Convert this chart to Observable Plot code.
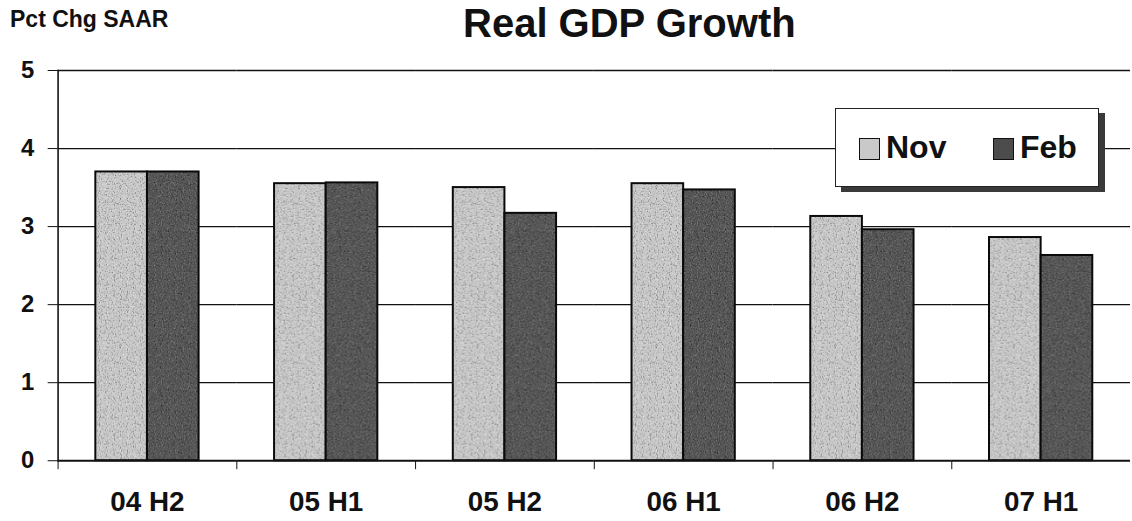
<!DOCTYPE html>
<html>
<head>
<meta charset="utf-8">
<script src="https://cdn.jsdelivr.net/npm/d3@7"></script>
<script src="https://cdn.jsdelivr.net/npm/@observablehq/plot@0.6"></script>
<style>
  html, body { margin: 0; padding: 0; background: #fff; overflow: hidden; width: 1132px; height: 521px; }
  #wrap { position: relative; width: 1132px; height: 521px; overflow: hidden; font-family: "Liberation Sans", Arial, sans-serif; font-weight: bold; color: #111; }
  #chart { position: absolute; left: 0; top: 0; }
  .lbl { position: absolute; white-space: nowrap; }
  #unit { left: 10px; top: 6px; font-size: 23px; line-height: normal; }
  #title { left: 463px; top: 1px; font-size: 40px; line-height: normal; }
  #legend { position: absolute; left: 835px; top: 108px; width: 262px; height: 77px; background: #fff;
            border: 1.5px solid #222; box-shadow: 6px 5px 0 #3a3a3a; }
  .sw { position: absolute; width: 19px; height: 20px; border: 1.5px solid #111; }
  .lt { position: absolute; font-size: 32px; line-height: 32px; }
</style>
</head>
<body>
<div id="wrap">
  <div id="chart"></div>
  <div class="lbl" id="unit">Pct Chg SAAR</div>
  <div class="lbl" id="title">Real GDP Growth</div>
  <div id="legend"></div>
</div>
<script>
// Half-year periods and the two vintages of the forecast
const periods = ["04 H2", "05 H1", "05 H2", "06 H1", "06 H2", "07 H1"];
const vintages = ["Nov", "Feb"];
const novValues = [3.7, 3.55, 3.5, 3.55, 3.13, 2.86];
const febValues = [3.7, 3.56, 3.17, 3.47, 2.96, 2.63];
const yTicks = [0, 1, 2, 3, 4, 5];
const gridLevels = [1, 2, 3, 4, 5];

const rows = periods.flatMap((p, i) => [
  {period: p, vintage: "Nov", value: novValues[i]},
  {period: p, vintage: "Feb", value: febValues[i]}
]);

const width = 1140, height = 521;
const marginLeft = 58, marginRight = 2, marginTop = 70.5, marginBottom = 57.5;
const halfStep = (width - marginLeft - marginRight) / periods.length / 2;

const chart = Plot.plot({
  width, height, marginLeft, marginRight, marginTop, marginBottom,
  style: {fontFamily: "'Liberation Sans', Arial, sans-serif", color: "#111", background: "transparent"},
  fx: {domain: periods, padding: 0, label: null},
  x: {domain: vintages, paddingInner: 0, paddingOuter: 0.73, axis: null},
  y: {domain: [0, 5], label: null},
  color: {domain: vintages, range: ["url(#texNov)", "url(#texFeb)"]},
  marks: [
    Plot.ruleY(gridLevels, {stroke: "#111", strokeWidth: 1.3}),
    Plot.barY(rows, {fx: "period", x: "vintage", y: "value", fill: "vintage", stroke: "#0a0a0a", strokeWidth: 2}),
    Plot.ruleY([0], {stroke: "#111", strokeWidth: 2}),
    Plot.frame({anchor: "left", facetAnchor: "left", stroke: "#111", strokeWidth: 1.6}),
    Plot.axisY({ticks: yTicks, tickFormat: "d", tickSize: 10, tickPadding: 14, fontSize: 24, fontWeight: "bold", label: null}),
    Plot.axisFx({anchor: "bottom", tickSize: 9, tickFormat: () => "", dx: -halfStep, label: null}),
    Plot.axisFx({anchor: "bottom", tickSize: 0, tickPadding: 31, fontSize: 28, fontWeight: "bold", label: null})
  ]
});

// Stippled fills for the two vintages
const defs = `
<defs>
  <filter id="speckDark" x="0" y="0" width="100%" height="100%">
    <feTurbulence type="fractalNoise" baseFrequency="0.85" numOctaves="1" seed="4"/>
    <feColorMatrix type="matrix" values="0 0 0 0 0  0 0 0 0 0  0 0 0 0 0  4 0 0 0 -2.1"/>
  </filter>
  <filter id="speckLight" x="0" y="0" width="100%" height="100%">
    <feTurbulence type="fractalNoise" baseFrequency="0.85" numOctaves="1" seed="9"/>
    <feColorMatrix type="matrix" values="0 0 0 0 1  0 0 0 0 1  0 0 0 0 1  4 0 0 0 -2.1"/>
  </filter>
  <pattern id="texNov" patternUnits="userSpaceOnUse" width="160" height="160">
    <rect width="160" height="160" fill="#c9c9c9"/>
    <rect width="160" height="160" filter="url(#speckDark)" opacity="0.45"/>
    <rect width="160" height="160" filter="url(#speckLight)" opacity="0.55"/>
  </pattern>
  <pattern id="texFeb" patternUnits="userSpaceOnUse" width="160" height="160">
    <rect width="160" height="160" fill="#555"/>
    <rect width="160" height="160" filter="url(#speckDark)" opacity="0.55"/>
    <rect width="160" height="160" filter="url(#speckLight)" opacity="0.3"/>
  </pattern>
</defs>`;
chart.insertAdjacentHTML("afterbegin", defs);
document.getElementById("chart").appendChild(chart);

// Legend box
const legend = document.getElementById("legend");
const items = [
  {name: "Nov", sw: 23, tx: 50},
  {name: "Feb", sw: 157, tx: 184}
];
items.forEach(it => {
  const sw = document.createElement("div");
  sw.className = "sw";
  sw.style.left = it.sw + "px";
  sw.style.top = "29px";
  sw.style.background = it.name === "Nov" ? "#c9c9c9" : "#4c4c4c";
  legend.appendChild(sw);
  const t = document.createElement("div");
  t.className = "lt";
  t.textContent = it.name;
  t.style.left = it.tx + "px";
  t.style.top = "22px";
  legend.appendChild(t);
});
</script>
</body>
</html>
